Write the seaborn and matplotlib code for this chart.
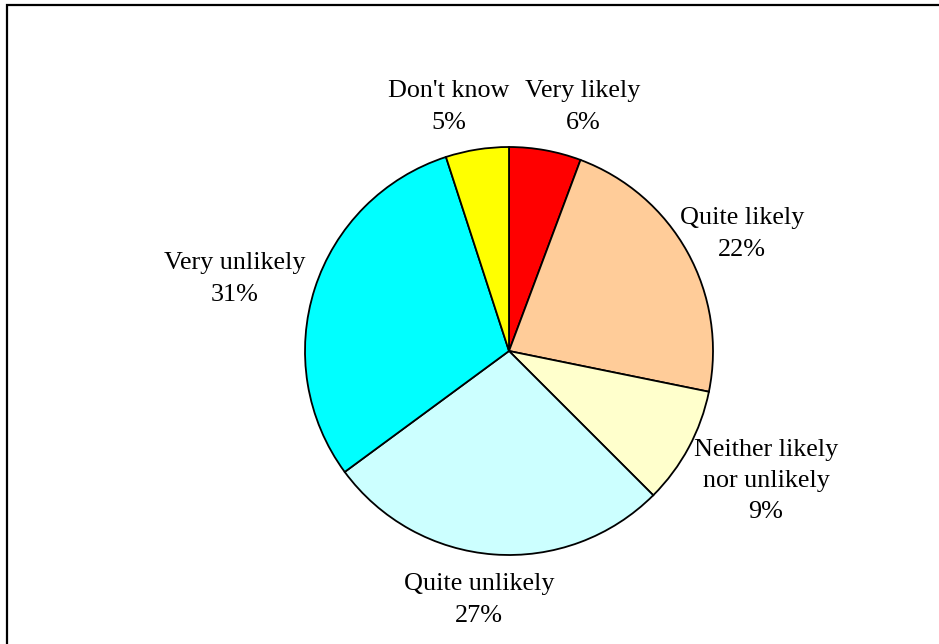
import matplotlib
matplotlib.use("Agg")
import matplotlib.pyplot as plt
import seaborn as sns
from matplotlib.patches import Rectangle

sns.set_theme(style="white")
plt.rcParams['font.family'] = ['Liberation Serif', 'DejaVu Serif']

categories = ["Very likely", "Quite likely", "Neither likely\nnor unlikely",
              "Quite unlikely", "Very unlikely", "Don't know"]
values = [5.7, 22.5, 9.3, 27.4, 30.1, 5.0]
pct_labels = ["6%", "22%", "9%", "27%", "31%", "5%"]
colors = ["#FF0000", "#FFCC99", "#FFFFCC", "#CCFFFF", "#00FFFF", "#FFFF00"]
label_pos = [(583, 537), (742, 410), (766, 163), (479, 44), (235, 365), (449, 537)]

fig = plt.figure(figsize=(9.39, 6.44), dpi=100)
ax = fig.add_axes([0, 0, 1, 1])
ax.axis('off')

ax.pie(values, colors=colors, startangle=90, counterclock=False,
       radius=204, center=(509, 293),
       wedgeprops=dict(edgecolor='black', linewidth=1.3))
ax.set_xlim(0, 939)
ax.set_ylim(0, 644)
ax.set_aspect('equal')

for cat, p, (x, y) in zip(categories, pct_labels, label_pos):
    ax.text(x, y, f"{cat}\n{p}", ha='center', va='center',
            fontsize=18.8, color='black', linespacing=1.55)

ax.add_patch(Rectangle((7, -20), 960, 659, fill=False, edgecolor='black',
                       linewidth=1.6, clip_on=False))

fig.savefig("out.png", dpi=100)
